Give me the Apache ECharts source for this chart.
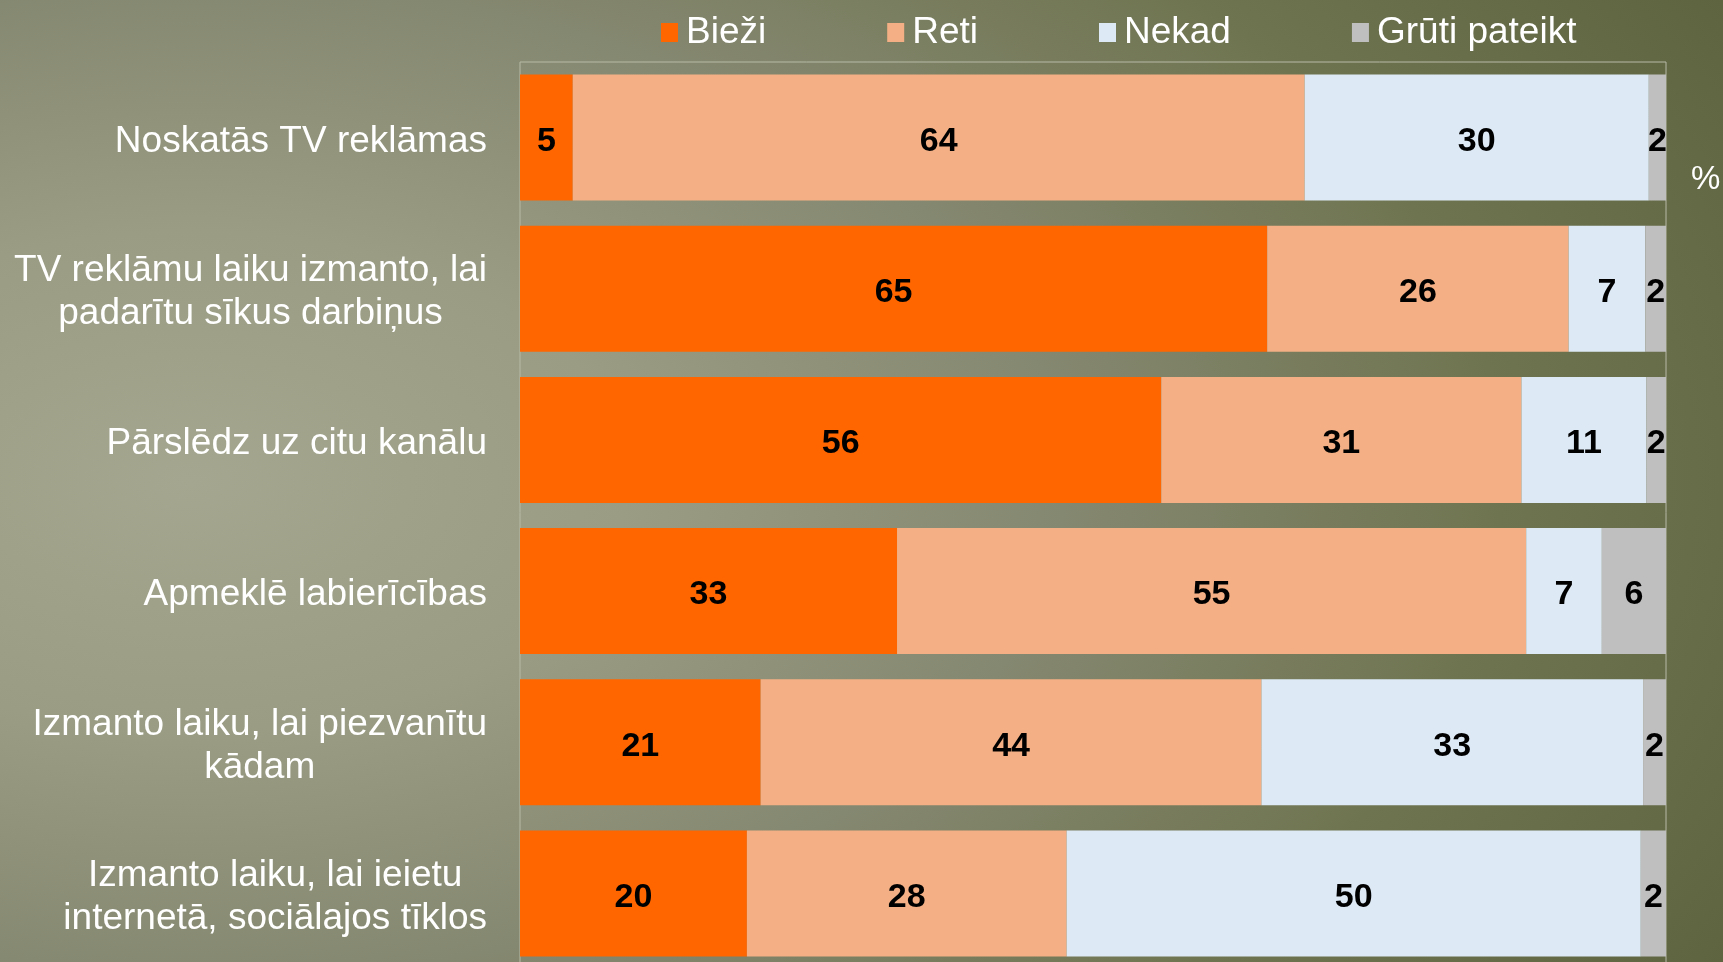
<!DOCTYPE html>
<html>
<head>
<meta charset="utf-8">
<script src="https://cdn.jsdelivr.net/npm/echarts@6/dist/echarts.min.js"></script>
<style>
  html, body { margin: 0; padding: 0; }
  body {
    width: 1723px; height: 962px; overflow: hidden;
    background: radial-gradient(ellipse 1750px 1000px at 11% 50%, #a4a68f 0%, #9a9c83 25%, #858870 50%, #6f7450 75%, #5e6440 100%);
  }
  #chart { width: 1723px; height: 962px; }
</style>
</head>
<body>
<div id="chart"></div>
<script>
var categories = [
  'Noskatās TV reklāmas',
  'TV reklāmu laiku izmanto, lai\npadarītu sīkus darbiņus',
  'Pārslēdz uz citu kanālu',
  'Apmeklē labierīcības',
  'Izmanto laiku, lai piezvanītu\nkādam',
  'Izmanto laiku, lai ieietu\ninternetā, sociālajos tīklos'
];
// shares; labels show them rounded
var biezi = [4.6, 65.2, 55.9, 32.9, 21.0, 19.8];
var reti = [63.8, 26.3, 31.4, 54.9, 43.7, 27.9];
var nekad = [30.0, 6.7, 10.9, 6.6, 33.3, 50.1];
var gruti = [1.5, 1.8, 1.7, 5.6, 2.0, 2.2];

var seriesNames = ['Bieži', 'Reti', 'Nekad', 'Grūti pateikt'];
var seriesColors = ['#ff6600', '#f4b084', '#ddeaf6', '#bfbfbf'];
var raw = [biezi, reti, nekad, gruti];

// rows are shown as 100% stacked bars
var totals = categories.map(function (c, i) {
  return biezi[i] + reti[i] + nekad[i] + gruti[i];
});

var chart = echarts.init(document.getElementById('chart'));

var series = raw.map(function (vals, s) {
  return {
    name: seriesNames[s],
    type: 'bar',
    stack: 'all',
    barWidth: 126,
    itemStyle: { color: seriesColors[s] },
    label: {
      show: true,
      position: 'inside',
      offset: [0, 4],
      color: '#000',
      fontFamily: 'Liberation Sans, Arial, sans-serif',
      fontWeight: 'bold',
      fontSize: 34,
      formatter: function (p) { return Math.round(vals[p.dataIndex]); }
    },
    data: vals.map(function (v, i) { return v / totals[i] * 100; })
  };
});

var option = {
  backgroundColor: 'transparent',
  animation: false,
  title: {
    text: '%',
    left: 1686,
    top: 158,
    textStyle: { color: '#fff', fontSize: 33, fontWeight: 'normal', fontFamily: 'Liberation Sans, Arial, sans-serif' }
  },
  legend: {
    left: 656,
    top: 9,
    itemWidth: 17,
    itemHeight: 19,
    itemGap: 121,
    icon: 'rect',
    data: seriesNames,
    textStyle: {
      color: '#fff',
      fontSize: 37,
      fontFamily: 'Liberation Sans, Arial, sans-serif',
      padding: [0, 0, 0, 3]
    }
  },
  grid: {
    left: 520,
    right: 57,
    top: 62,
    height: 907,
    outerBoundsMode: 'none',
    containLabel: false,
    show: true,
    borderColor: '#b7baa6',
    borderWidth: 1,
    backgroundColor: 'transparent'
  },
  xAxis: {
    type: 'value',
    min: 0,
    max: 100,
    show: false
  },
  yAxis: {
    type: 'category',
    inverse: true,
    data: categories,
    axisLine: { show: false },
    axisTick: { show: false },
    axisLabel: {
      margin: 33,
      padding: [8, 0, 0, 0],
      formatter: function (v) {
        return v.split('\n').map(function (l) { return '{c|' + l + '}'; }).join('\n');
      },
      rich: {
        c: {
          align: 'center',
          color: '#fff',
          fontSize: 37,
          lineHeight: 43,
          fontFamily: 'Liberation Sans, Arial, sans-serif'
        }
      }
    }
  },
  series: series
};
chart.setOption(option);
</script>
</body>
</html>
